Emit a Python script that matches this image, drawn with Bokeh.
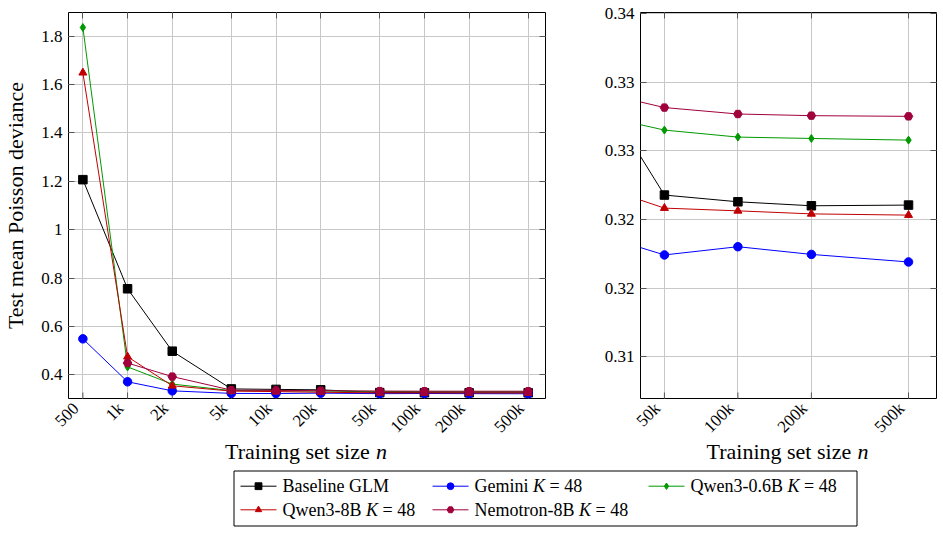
import math
from bokeh.plotting import figure
from bokeh.models import FixedTicker, LogAxis, LinearAxis, Range1d
from bokeh.layouts import column, row
from bokeh.embed import file_html
from bokeh.resources import INLINE
from bokeh.core.properties import value

# ---------------- data ----------------
n_sizes = [500, 1000, 2000, 5000, 10000, 20000, 50000, 100000, 200000, 500000]
n_tick_labels = ["500", "1k", "2k", "5k", "10k", "20k", "50k", "100k", "200k", "500k"]
zoom_ticks = [50000, 100000, 200000, 500000]
zoom_tick_labels = ["50k", "100k", "200k", "500k"]

baseline_glm = [1.207, 0.756, 0.498, 0.342, 0.340, 0.3382, 0.32678, 0.32629, 0.32600, 0.32605]
gemini = [0.549, 0.3715, 0.334, 0.3235, 0.3230, 0.3246, 0.32242, 0.32302, 0.32246, 0.32191]
qwen_06b = [1.836, 0.433, 0.362, 0.335, 0.334, 0.3331, 0.33151, 0.33100, 0.33090, 0.33078]
qwen_8b = [1.649, 0.475, 0.355, 0.333, 0.331, 0.3282, 0.32583, 0.32563, 0.32541, 0.32532]
nemotron_sizes = [1000, 2000, 5000, 10000, 20000, 50000, 100000, 200000, 500000]
nemotron_8b = [0.449, 0.393, 0.337, 0.336, 0.3348, 0.33315, 0.33268, 0.33256, 0.33251]

left_y_ticks = [0.4, 0.6, 0.8, 1.0, 1.2, 1.4, 1.6, 1.8]
left_y_labels = ["0.4", "0.6", "0.8", "1", "1.2", "1.4", "1.6", "1.8"]
right_y_ticks = [0.315, 0.32, 0.325, 0.33, 0.335, 0.34]
right_y_labels = ["0.31", "0.32", "0.32", "0.33", "0.33", "0.34"]

series_names = ["Baseline GLM", "Gemini", "Qwen3-0.6B", "Qwen3-8B", "Nemotron-8B"]
series_has_k = [False, True, True, True, True]
series_x = [n_sizes, n_sizes, n_sizes, n_sizes, nemotron_sizes]
series_y = [baseline_glm, gemini, qwen_06b, qwen_8b, nemotron_8b]

# ---------------- styles / layout ----------------
FONT = "Liberation Serif"
colors = ["#000000", "#0000ff", "#009900", "#c00000", "#a0003c"]
markers = ["square", "circle", "diamond", "triangle", "hex"]
msizes = [8.5, 8.5, 8, 8, 8.5]

GRID = "#c8c8c8"
TICK = "#555555"
TICK_FS = "17px"
TICK_LEN = 6

FRAME_TOP = 12
FRAME_H = 386
BOTTOM = 1            # border under each frame
STRIP_H = 36          # rotated tick-label strip under each panel
LABEL_Y = 405         # page y of the rotated labels' right-middle anchor

# panel geometry: (x-range, frame width, left border, right border)
P1_XR = (400, 654000)
P1_YR = (0.3024, 1.898)
P1_FW, P1_L, P1_R = 477, 67, 36
P2_XR = (39900, 651000)
P2_YR = (0.31197, 0.34007)
P2_FW, P2_L, P2_R = 296, 59, 8


def base_fig(xr, yr, fw, left, right):
    p = figure(frame_width=fw, frame_height=FRAME_H, x_axis_type="log",
               x_axis_location=None, x_range=Range1d(*xr), y_range=Range1d(*yr),
               output_backend="svg", toolbar_location=None,
               min_border_left=left, min_border_right=right,
               min_border_top=FRAME_TOP, min_border_bottom=BOTTOM,
               background_fill_color="white", border_fill_color="white")
    p.outline_line_color = "black"
    p.outline_line_alpha = 1
    p.outline_line_width = 1
    return p


def tick_style(ax):
    ax.axis_line_color = None
    ax.major_tick_in = TICK_LEN
    ax.major_tick_out = 0
    ax.major_tick_line_color = TICK
    ax.minor_tick_line_color = None


def hide_labels(ax):
    ax.major_label_text_color = None
    ax.major_label_text_font_size = "1px"
    ax.major_label_standoff = 0


def style_axes(p, xt, yt, yl, yr):
    ya = p.left[0]
    ya.ticker = FixedTicker(ticks=yt)
    ya.major_label_overrides = {t: l for t, l in zip(yt, yl)}
    tick_style(ya)
    ya.major_label_text_font = FONT
    ya.major_label_text_font_size = TICK_FS
    ya.major_label_text_color = "black"
    ya.major_label_standoff = 6
    p.xgrid.ticker = FixedTicker(ticks=xt)
    p.ygrid.ticker = FixedTicker(ticks=yt)
    for g in (p.xgrid[0], p.ygrid[0]):
        g.grid_line_color = GRID
        g.grid_line_width = 1
    # mirrored inward ticks on top and right
    top = LogAxis(ticker=FixedTicker(ticks=xt))
    rgt = LinearAxis(ticker=FixedTicker(ticks=yt))
    for ax in (top, rgt):
        tick_style(ax)
        hide_labels(ax)
    p.add_layout(top, "above")
    p.add_layout(rgt, "right")
    # inward tick marks along the bottom edge of the frame
    dy = TICK_LEN * (yr[1] - yr[0]) / FRAME_H
    p.segment(x0=xt, y0=[yr[0]] * len(xt), x1=xt, y1=[yr[0] + dy] * len(xt),
              line_color=TICK, line_width=1)


def draw_series(p):
    for xs, ys, c, m, s in zip(series_x, series_y, colors, markers, msizes):
        p.line(xs, ys, line_color=c, line_width=1)
        p.scatter(xs, ys, marker=m, size=s, fill_color=c, line_color=c)


STRIP_TOP = FRAME_TOP + FRAME_H + BOTTOM


def label_strip(xr, fw, left, right, ticks, labels):
    """A strip below a panel, on the same log scale, holding the rotated tick labels."""
    lo, hi = math.log10(xr[0]), math.log10(xr[1])
    k = (hi - lo) / fw
    ext = (10 ** (lo - left * k), 10 ** (hi + right * k))
    s = figure(width=fw + left + right, height=STRIP_H, x_axis_type="log",
               x_range=Range1d(*ext), y_range=Range1d(STRIP_H, 0),
               x_axis_location=None, y_axis_location=None, output_backend="svg",
               toolbar_location=None, min_border=0, min_border_left=0,
               min_border_right=0, min_border_top=0, min_border_bottom=0)
    s.outline_line_color = None
    s.xgrid.visible = False
    s.ygrid.visible = False
    s.text(x=ticks, y=[LABEL_Y - STRIP_TOP] * len(ticks), text=labels, angle=math.pi / 4,
           x_offset=-6, text_align="right", text_baseline="middle",
           text_font=value(FONT), text_font_size=TICK_FS, text_color="black")
    return s


# left panel
p1 = base_fig(P1_XR, P1_YR, P1_FW, P1_L, P1_R)
style_axes(p1, n_sizes, left_y_ticks, left_y_labels, P1_YR)
ya = p1.left[0]
ya.axis_label = "Test mean Poisson deviance"
ya.axis_label_text_font = FONT
ya.axis_label_text_font_style = "normal"
ya.axis_label_text_font_size = "22px"
ya.axis_label_text_color = "black"
ya.axis_label_standoff = 10
draw_series(p1)

# right (zoomed) panel
p2 = base_fig(P2_XR, P2_YR, P2_FW, P2_L, P2_R)
style_axes(p2, zoom_ticks, right_y_ticks, right_y_labels, P2_YR)
draw_series(p2)

s1 = label_strip(P1_XR, P1_FW, P1_L, P1_R, n_sizes, n_tick_labels)
s2 = label_strip(P2_XR, P2_FW, P2_L, P2_R, zoom_ticks, zoom_tick_labels)

# ---------------- bottom strip: x-axis titles and legend ----------------
# Times / Liberation Serif advance widths (1/1000 em) to place the italic parts
W = {" ": 250, "-": 333, ".": 250, "=": 564, "B": 667, "G": 722, "K": 722, "L": 611,
     "M": 889, "N": 722, "Q": 722, "T": 611, "a": 444, "c": 444, "e": 444, "g": 500,
     "i": 278, "l": 278, "m": 778, "n": 500, "o": 500, "r": 333, "s": 389, "t": 278,
     "w": 722, "z": 444}
for d in "0123456789":
    W[d] = 500


def tw(s, fs):
    return sum(W.get(ch, 500) for ch in s) / 1000.0 * fs


top_used = STRIP_TOP + STRIP_H
H3 = 533 - top_used
p3 = figure(width=943, height=H3, x_range=Range1d(0, 943), y_range=Range1d(H3, 0),
            x_axis_type=None, y_axis_type=None, output_backend="svg",
            toolbar_location=None, min_border=0, min_border_left=0, min_border_right=0,
            min_border_top=0, min_border_bottom=0)
p3.outline_line_color = None
p3.xgrid.visible = False
p3.ygrid.visible = False


def ypos(page_y):
    return page_y - top_used


# x-axis titles ("Training set size" + italic n), centred under each frame
XFS = 22
xt_reg = "Training set size"
xt_w = tw(xt_reg + " ", XFS) + 0.5 * XFS
reg_x, ital_x = [], []
for cx in (P1_L + P1_FW / 2, P1_L + P1_FW + P1_R + P2_L + P2_FW / 2):
    x0 = cx - xt_w / 2
    reg_x.append(x0)
    ital_x.append(x0 + tw(xt_reg + " ", XFS))
ty = ypos(450.5)
p3.text(x=reg_x, y=[ty, ty], text=[xt_reg, xt_reg], text_font=value(FONT),
        text_font_size=f"{XFS}px", text_baseline="middle", text_color="black")
p3.text(x=ital_x, y=[ty, ty], text=["n", "n"], text_font=value(FONT),
        text_font_style="italic", text_font_size=f"{XFS}px",
        text_baseline="middle", text_color="black")

# legend box
p3.quad(left=[233.5], right=[856.5], top=[ypos(470.5)], bottom=[ypos(525.5)],
        fill_color=None, line_color="black", line_width=1)

LFS = 18
col_x = [240, 432, 648]
row_y = [ypos(485.7), ypos(509.3)]
for i, (name, hk, c, m, s) in enumerate(zip(series_names, series_has_k, colors, markers, msizes)):
    cx = col_x[i % 3]
    cy = row_y[i // 3]
    p3.segment(x0=[cx], y0=[cy], x1=[cx + 36], y1=[cy], line_color=c, line_width=1)
    p3.scatter(x=[cx + 18], y=[cy], marker=m, size=s * 0.8, fill_color=c, line_color=c)
    tx = cx + 42
    p3.text(x=[tx], y=[cy], text=[name], text_font=value(FONT),
            text_font_size=f"{LFS}px", text_baseline="middle", text_color="black")
    if hk:
        kx = tx + tw(name + " ", LFS)
        p3.text(x=[kx], y=[cy], text=["K"], text_font=value(FONT), text_font_style="italic",
                text_font_size=f"{LFS}px", text_baseline="middle", text_color="black")
        ex = kx + 0.667 * LFS + tw(" ", LFS)
        p3.text(x=[ex], y=[cy], text=["= 48"], text_font=value(FONT),
                text_font_size=f"{LFS}px", text_baseline="middle", text_color="black")

layout = column(row(p1, p2, spacing=0), row(s1, s2, spacing=0), p3, spacing=0)
open("out.html", "w").write(file_html(layout, INLINE))
